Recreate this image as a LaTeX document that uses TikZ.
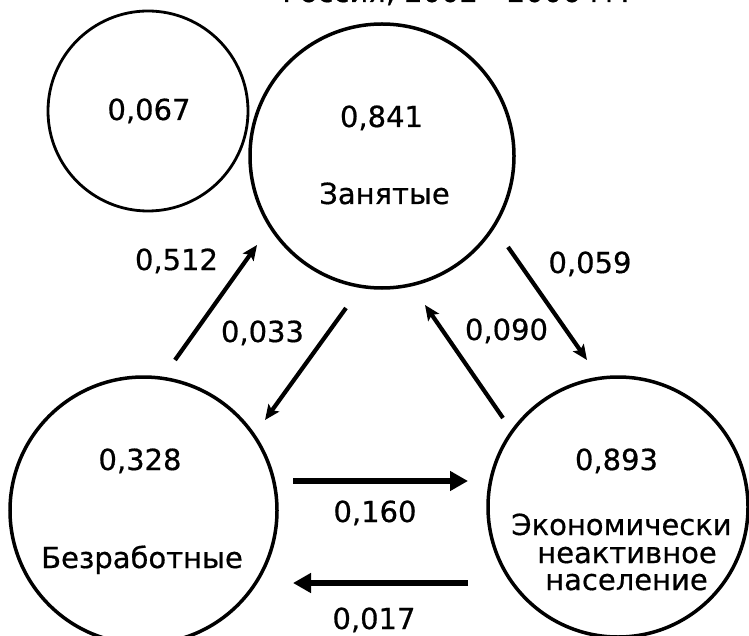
\documentclass[tikz,border=0pt]{standalone}
\usepackage{fontspec}
\setmainfont{DejaVu Sans}[FakeBold=0.6]
\usetikzlibrary{arrows.meta}
\begin{document}
\begin{tikzpicture}[x=1pt,y=-1pt,
  state/.style={circle,draw,line width=3.5pt,inner sep=0pt},
  lab/.style={anchor=base,inner sep=0pt,font=\fontsize{29}{31}\selectfont},
  flowd/.style={line width=4.2pt,-{Stealth[length=15pt,width=13pt,inset=3pt]}},
  flowh/.style={line width=5.5pt,-{Triangle[length=18pt,width=19pt]}}]
\useasboundingbox (0,0) rectangle (749,636);
\clip (0,0) rectangle (749,636);
\fill[white] (0,0) rectangle (749,636);
% title (cut off at the top)
\node[lab] (title) at (456,2) {Россия, 2002 - 2006 гг.};
% states
\node[state,line width=2.8pt,minimum size=200pt] (S) at (148,111) {};
\node[state,minimum size=264pt] (Z) at (382,156) {};
\node[state,minimum size=267pt] (B) at (143.5,510.5) {};
\node[state,minimum size=260pt] (E) at (618,507) {};
% texts in circles
\node[lab] (s1) at (149,120) {0,067};
\node[lab] (z1) at (381.5,127) {0,841};
\node[lab] (z2) at (384.5,204) {Занятые};
\node[lab] (b1) at (140,470) {0,328};
\node[lab] (b2) at (142,568) {Безработные};
\node[lab] (e1) at (616.5,470) {0,893};
\node[lab] (e2) at (621.5,535) {Экономически};
\node[lab] (e3) at (627,563) {неактивное};
\node[lab] (e4) at (626.5,590) {население};
% arrow ends
\coordinate (p512a) at (175,360);
\coordinate (p512b) at (257,245);
\coordinate (p033a) at (346,308);
\coordinate (p033b) at (265,420);
\coordinate (p059a) at (508,247);
\coordinate (p059b) at (587,360);
\coordinate (p090a) at (503,418);
\coordinate (p090b) at (425,305);
\coordinate (p160a) at (293,481);
\coordinate (p160b) at (468,481);
\coordinate (p017a) at (468,583);
\coordinate (p017b) at (293,583);
\draw[flowd] (p512a) -- (p512b);
\draw[flowd] (p033a) -- (p033b);
\draw[flowd] (p059a) -- (p059b);
\draw[flowd] (p090a) -- (p090b);
\draw[flowh] (p160a) -- (p160b);
\draw[flowh] (p017a) -- (p017b);
% arrow labels
\node[lab] (l512) at (176.5,270) {0,512};
\node[lab] (l033) at (262.5,342) {0,033};
\node[lab] (l059) at (590,273) {0,059};
\node[lab] (l090) at (506.5,340) {0,090};
\node[lab] (l160) at (375,522) {0,160};
\node[lab] (l017) at (374,629) {0,017};
\end{tikzpicture}
\end{document}
